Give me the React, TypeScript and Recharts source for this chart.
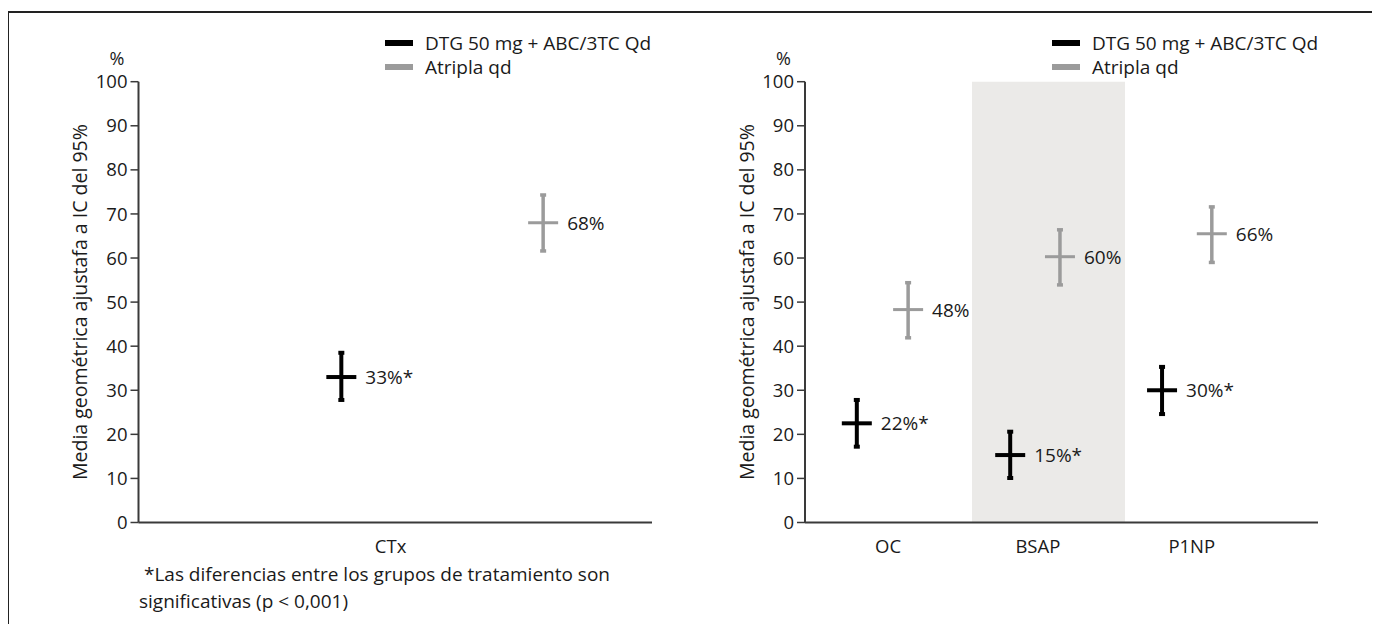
import React from 'react';
import { ComposedChart, Scatter, XAxis, YAxis, ErrorBar, ReferenceArea } from 'recharts';

// ---------- data ----------
const seriesNames = ['DTG 50 mg + ABC/3TC Qd', 'Atripla qd'];
const yTicks = [0, 10, 20, 30, 40, 50, 60, 70, 80, 90, 100];
const yAxisTitle = 'Media geométrica ajustafa a IC del 95%';
const yUnit = '%';
const footnoteLines = [' *Las diferencias entre los grupos de tratamiento son', 'significativas (p < 0,001)'];

const leftCategories = ['CTx'];
const leftDtgValue = [33.0];
const leftDtgLow = [27.8];
const leftDtgHigh = [38.5];
const leftDtgLabels = ['33%*'];
const leftAtrValue = [68.0];
const leftAtrLow = [61.6];
const leftAtrHigh = [74.3];
const leftAtrLabels = ['68%'];

const rightCategories = ['OC', 'BSAP', 'P1NP'];
const rightDtgValue = [22.5, 15.3, 30.0];
const rightDtgLow = [17.2, 10.1, 24.6];
const rightDtgHigh = [27.8, 20.6, 35.3];
const rightDtgLabels = ['22%*', '15%*', '30%*'];
const rightAtrValue = [48.3, 60.3, 65.5];
const rightAtrLow = [41.9, 53.9, 59.0];
const rightAtrHigh = [54.4, 66.4, 71.6];
const rightAtrLabels = ['48%', '60%', '66%'];

// ---------- layout (positions on a 0..1 horizontal axis) ----------
const LEFT_POS = { tick: [0.491], dtg: [0.395], atr: [0.788] };
const RIGHT_POS = {
  tick: [0.162, 0.454, 0.754],
  dtg: [0.101, 0.4, 0.696],
  atr: [0.201, 0.497, 0.793],
  band: [0.3255, 0.6238],
};

const FONT = "'Open Sans', 'Noto Sans', sans-serif";
const BLACK = '#000000';
const GRAY = '#9b9b9b';
const AXIS = '#3a3a3a';
const TEXT = '#1a1a1a';
const BAND = '#ebeae8';

type Row = { x: number; y: number; err: [number, number]; label: string };

function buildRows(pos: number[], v: number[], lo: number[], hi: number[], labels: string[]): Row[] {
  return v.map((val, i) => ({ x: pos[i], y: val, err: [val - lo[i], hi[i] - val], label: labels[i] }));
}

function crossShape(color: string, sw: number) {
  return (props: any) => {
    const { cx, cy, payload } = props;
    if (cx == null || cy == null) return <g />;
    return (
      <g>
        <line x1={cx - 15} x2={cx + 15} y1={cy} y2={cy} stroke={color} strokeWidth={sw} />
        <text x={cx + 24} y={cy} dominantBaseline="central" fontSize={19} fontFamily={FONT} fill={TEXT}>
          {payload.label}
        </text>
      </g>
    );
  };
}

const yLabel = (props: any) => {
  const vb = props.viewBox || { x: 0, y: 0, width: 0, height: 0 };
  const ax = vb.x + vb.width;
  const cy = vb.y + vb.height / 2;
  const tx = ax - 58.5;
  return (
    <g>
      <text
        x={tx}
        y={cy}
        transform={`rotate(-90, ${tx}, ${cy})`}
        textAnchor="middle"
        dominantBaseline="central"
        fontSize={19.5}
        fontFamily={FONT}
        fill={TEXT}
      >
        {yAxisTitle}
      </text>
      <text x={ax - 21.5} y={vb.y - 24} textAnchor="middle" dominantBaseline="central" fontSize={18} fontFamily={FONT} fill={TEXT}>
        {yUnit}
      </text>
    </g>
  );
};

function LegendBox({ left, top }: { left: number; top: number }) {
  return (
    <svg width={300} height={56} style={{ position: 'absolute', left, top, display: 'block' }}>
      {seriesNames.map((n, i) => (
        <g key={n}>
          <rect x={0} y={12 + i * 24 - 3} width={28} height={6} fill={i === 0 ? BLACK : GRAY} />
          <text x={40} y={12 + i * 24} dominantBaseline="central" fontSize={19} fontFamily={FONT} fill={TEXT}>
            {n}
          </text>
        </g>
      ))}
    </svg>
  );
}

type PanelProps = {
  width: number;
  height: number;
  margin: { top: number; right: number; bottom: number; left: number };
  categories: string[];
  tickPos: number[];
  dtgRows: Row[];
  atrRows: Row[];
  band?: number[];
};

function Panel({ width, height, margin, categories, tickPos, dtgRows, atrRows, band }: PanelProps) {
  const xTick = (p: any) => {
    const idx = tickPos.indexOf(p.payload.value);
    return (
      <text x={p.x} y={p.y + 22.5} textAnchor="middle" dominantBaseline="central" fontSize={18.5} fontFamily={FONT} fill={TEXT}>
        {categories[idx >= 0 ? idx : p.index]}
      </text>
    );
  };
  return (
    <ComposedChart width={width} height={height} margin={margin} style={{ fontFamily: FONT }}>
      {band ? (
        <ReferenceArea x1={band[0]} x2={band[1]} y1={0} y2={100} fill={BAND} fillOpacity={1} stroke="none" />
      ) : null}
      <XAxis
        type="number"
        dataKey="x"
        domain={[0, 1]}
        ticks={tickPos}
        height={30}
        tickSize={0}
        tickMargin={0}
        axisLine={{ stroke: AXIS, strokeWidth: 2 }}
        tickLine={false}
        tick={xTick}
        interval={0}
        allowDataOverflow
      />
      <YAxis
        type="number"
        domain={[0, 100]}
        ticks={yTicks}
        width={60}
        tickSize={8}
        tickMargin={3}
        interval={0}
        axisLine={{ stroke: AXIS, strokeWidth: 2 }}
        tickLine={{ stroke: AXIS, strokeWidth: 1.5 }}
        tick={{ fontSize: 18.5, fill: TEXT, fontFamily: FONT }}
        label={{ content: yLabel }}
      />
      <Scatter name={seriesNames[0]} data={dtgRows} dataKey="y" fill={BLACK} shape={crossShape(BLACK, 4)} isAnimationActive={false}>
        <ErrorBar dataKey="err" direction="y" width={3} stroke={BLACK} strokeWidth={4} isAnimationActive={false} />
      </Scatter>
      <Scatter name={seriesNames[1]} data={atrRows} dataKey="y" fill={GRAY} shape={crossShape(GRAY, 3)} isAnimationActive={false}>
        <ErrorBar dataKey="err" direction="y" width={3} stroke={GRAY} strokeWidth={3.5} isAnimationActive={false} />
      </Scatter>
    </ComposedChart>
  );
}

export default function App() {
  const leftDtg = buildRows(LEFT_POS.dtg, leftDtgValue, leftDtgLow, leftDtgHigh, leftDtgLabels);
  const leftAtr = buildRows(LEFT_POS.atr, leftAtrValue, leftAtrLow, leftAtrHigh, leftAtrLabels);
  const rightDtg = buildRows(RIGHT_POS.dtg, rightDtgValue, rightDtgLow, rightDtgHigh, rightDtgLabels);
  const rightAtr = buildRows(RIGHT_POS.atr, rightAtrValue, rightAtrLow, rightAtrHigh, rightAtrLabels);
  return (
    <div style={{ position: 'relative', width: 1372, height: 616, fontFamily: FONT, overflow: 'hidden', background: '#fff' }}>
      <div style={{ position: 'absolute', left: 0, top: 3, width: 1372, height: 2, background: '#222' }} />
      <div style={{ position: 'absolute', left: -1, top: 3, width: 2, height: 613, background: '#222' }} />
      <div style={{ position: 'absolute', left: 0, top: 0 }}>
        <Panel
          width={680}
          height={616}
          margin={{ top: 73.7, right: 36, bottom: 71.5, left: 70.5 }}
          categories={leftCategories}
          tickPos={LEFT_POS.tick}
          dtgRows={leftDtg}
          atrRows={leftAtr}
        />
      </div>
      <div style={{ position: 'absolute', left: 680, top: 0 }}>
        <Panel
          width={692}
          height={616}
          margin={{ top: 73.7, right: 62, bottom: 71.5, left: 57 }}
          categories={rightCategories}
          tickPos={RIGHT_POS.tick}
          dtgRows={rightDtg}
          atrRows={rightAtr}
          band={RIGHT_POS.band}
        />
      </div>
      <LegendBox left={377} top={22.7} />
      <LegendBox left={1044} top={22.7} />
      <div style={{ position: 'absolute', left: 131, top: 567 - 14, fontSize: 19, lineHeight: '26px', color: TEXT, whiteSpace: 'pre' }}>
        {footnoteLines[0]}
      </div>
      <div style={{ position: 'absolute', left: 131, top: 593.7 - 14, fontSize: 19, lineHeight: '26px', color: TEXT, whiteSpace: 'pre' }}>
        {footnoteLines[1]}
      </div>
    </div>
  );
}
